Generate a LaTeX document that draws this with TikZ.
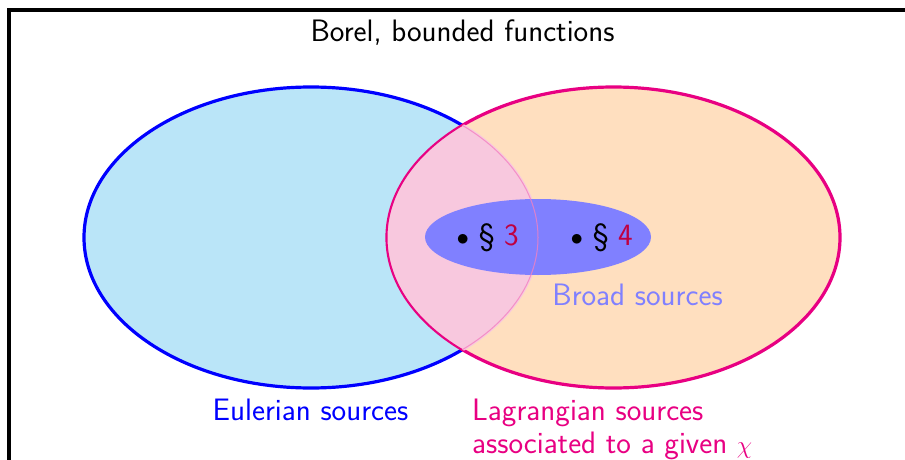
\documentclass[tikz,border=0pt]{standalone}
\usepackage{amssymb}
\renewcommand{\familydefault}{\sfdefault}
\definecolor{eulfill}{RGB}{186,229,248}
\definecolor{lagfill}{RGB}{255,223,191}
\definecolor{interfill}{RGB}{248,200,222}
\definecolor{lagline}{RGB}{232,0,130}
\definecolor{broad}{RGB}{128,128,255}
\definecolor{secnum}{RGB}{191,0,64}
\tikzset{
  lbl/.style={inner sep=0pt, font=\fontsize{31}{33}\selectfont\sffamily},
}
\begin{document}
\begin{tikzpicture}[x=1pt,y=-1pt]
\useasboundingbox (0,0) rectangle (905,460);
\clip (0,0) rectangle (905,460);
% frame
\draw[line width=4pt] (8.5,10) rectangle (1200,800);
% Eulerian ellipse
\fill[eulfill] (311,237.5) ellipse [x radius=227, y radius=150.5];
\draw[blue, line width=3.2pt] (311,237.5) ellipse [x radius=227, y radius=150.5];
% Lagrangian ellipse
\fill[lagfill] (613.5,237.5) ellipse [x radius=226.5, y radius=150.5];
\draw[lagline, line width=3.2pt] (613.5,237.5) ellipse [x radius=226.5, y radius=150.5];
% intersection
\begin{scope}
  \clip (311,237.5) ellipse [x radius=228.7, y radius=152.2];
  \fill[interfill] (613.5,237.5) ellipse [x radius=226.5, y radius=150.5];
\end{scope}
\begin{scope}
  \clip (311,237.5) ellipse [x radius=227, y radius=150.5];
  \draw[lagline, line width=1pt] (613.5,237.5) ellipse [x radius=226.5, y radius=150.5];
\end{scope}
% broad sources ellipse
\fill[broad] (538,237) ellipse [x radius=113, y radius=38];
\begin{scope}
  \clip (613.5,237.5) ellipse [x radius=226.5, y radius=150.5];
  \draw[lagline!50, line width=1pt, opacity=0.8] (311,237.5) ellipse [x radius=227, y radius=150.5];
\end{scope}
% labels
\node[lbl, anchor=base] (title) at (462.5,42) {Borel, bounded functions};
\node[lbl, anchor=base west] (s3) at (456.5,245) {$\bullet$ \S\ \textcolor{secnum}{3}};
\node[lbl, anchor=base west] (s4) at (570.5,245) {$\bullet$ \S\ \textcolor{secnum}{4}};
\node[lbl, text=broad, anchor=base] (broadlbl) at (637.5,305) {Broad sources};
\node[lbl, text=blue, anchor=base] (eul) at (310.5,420) {Eulerian sources};
\node[lbl, text=lagline, anchor=base west, align=left] (lag) at (472,453) {Lagrangian sources\\associated to a given $\chi$};
\end{tikzpicture}
\end{document}
